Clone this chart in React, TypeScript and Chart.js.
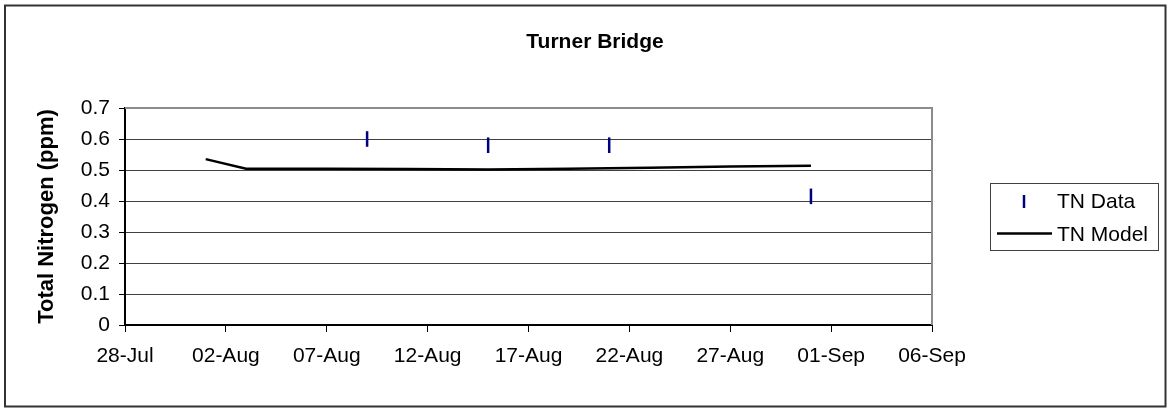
import React, { useEffect, useRef } from "react";
import { Chart, registerables } from "chart.js";

Chart.register(...registerables);

const FONT = "Arial, 'Liberation Sans', sans-serif";

const chartTitle = "Turner Bridge";
const yAxisTitle = "Total Nitrogen (ppm)";
const seriesNames = ["TN Data", "TN Model"];
const xTickLabels = ["28-Jul", "02-Aug", "07-Aug", "12-Aug", "17-Aug", "22-Aug", "27-Aug", "01-Sep", "06-Sep"];
const yTickLabels = ["0", "0.1", "0.2", "0.3", "0.4", "0.5", "0.6", "0.7"];

// x values are days since 28-Jul
const dataDays = [12, 18, 24, 34];
const dataValues = [0.6, 0.58, 0.58, 0.415];
const modelDays = [4, 6, 10, 14, 18, 22, 26, 30, 34];
const modelValues = [0.535, 0.504, 0.504, 0.503, 0.502, 0.504, 0.507, 0.511, 0.514];

const dataColor = "#000080";
const modelColor = "#000000";

const decorPlugin = {
  id: "decor",
  beforeDraw(chart: any) {
    const ctx = chart.ctx;
    ctx.save();
    ctx.fillStyle = "#ffffff";
    ctx.fillRect(0, 0, chart.width, chart.height);
    ctx.restore();
  },
  beforeDatasetsDraw(chart: any) {
    const { left, top, right, bottom } = chart.chartArea;
    const ctx = chart.ctx;
    ctx.save();
    ctx.strokeStyle = "#8c8c8c";
    ctx.lineWidth = 2;
    ctx.beginPath();
    ctx.moveTo(left, top);
    ctx.lineTo(right, top);
    ctx.lineTo(right, bottom);
    ctx.stroke();
    ctx.restore();
  },
  afterDraw(chart: any) {
    const ctx = chart.ctx;
    ctx.save();
    // outer chart border
    ctx.strokeStyle = "#333333";
    ctx.lineWidth = 2;
    ctx.strokeRect(5, 5.5, 1160.5, 401);
    // title
    ctx.fillStyle = "#000";
    ctx.font = `bold 21px ${FONT}`;
    ctx.textAlign = "center";
    ctx.textBaseline = "alphabetic";
    ctx.fillText(chartTitle, 595, 48);
    // legend
    ctx.strokeStyle = "#404040";
    ctx.lineWidth = 1;
    ctx.strokeRect(990.5, 183.5, 168, 67);
    const ds = chart.data.datasets;
    ctx.strokeStyle = ds[0].borderColor;
    ctx.lineWidth = 2.5;
    ctx.beginPath();
    ctx.moveTo(1024, 195);
    ctx.lineTo(1024, 208);
    ctx.stroke();
    ctx.strokeStyle = ds[1].borderColor;
    ctx.lineWidth = 2.5;
    ctx.beginPath();
    ctx.moveTo(997, 233.5);
    ctx.lineTo(1052, 233.5);
    ctx.stroke();
    ctx.fillStyle = "#000";
    ctx.font = `21px ${FONT}`;
    ctx.textAlign = "left";
    ctx.fillText(ds[0].label, 1057, 208);
    ctx.fillText(ds[1].label, 1057, 240.5);
    ctx.restore();
  },
};

export default function App() {
  const ref = useRef<HTMLCanvasElement | null>(null);

  useEffect(() => {
    document.body.style.margin = "0";
    const canvas = ref.current;
    if (!canvas) return;
    const chart = new Chart(canvas, {
      type: "scatter",
      data: {
        datasets: [
          {
            label: seriesNames[0],
            data: dataDays.map((d, i) => ({ x: d, y: dataValues[i] })),
            showLine: false,
            pointStyle: "line",
            rotation: 90,
            pointRadius: 7.8,
            pointHoverRadius: 7.8,
            borderWidth: 2.5,
            borderColor: dataColor,
            backgroundColor: dataColor,
          },
          {
            label: seriesNames[1],
            data: modelDays.map((d, i) => ({ x: d, y: modelValues[i] })),
            showLine: true,
            pointRadius: 0,
            pointHoverRadius: 0,
            borderWidth: 2.5,
            borderColor: modelColor,
            backgroundColor: modelColor,
            tension: 0,
          },
        ],
      },
      options: {
        responsive: false,
        animation: false,
        events: [],
        layout: { padding: { top: 108, right: 235, bottom: 0, left: 0 } },
        plugins: {
          legend: { display: false },
          title: { display: false },
          tooltip: { enabled: false },
        },
        scales: {
          x: {
            type: "linear",
            min: 0,
            max: 40,
            afterFit: (scale: any) => {
              scale.height = 84;
            },
            ticks: {
              stepSize: 5,
              autoSkip: false,
              maxRotation: 0,
              padding: 12,
              color: "#000",
              font: { family: FONT, size: 21 },
              callback: (v: any) => xTickLabels[Math.round(Number(v) / 5)],
            },
            grid: {
              drawOnChartArea: false,
              drawTicks: true,
              tickLength: 7,
              tickColor: "#000",
              lineWidth: 1,
            },
            border: { color: "#000", width: 2 },
          },
          y: {
            type: "linear",
            min: 0,
            max: 0.7,
            afterFit: (scale: any) => {
              scale.width = 125;
            },
            ticks: {
              stepSize: 0.1,
              padding: 9,
              color: "#000",
              font: { family: FONT, size: 21 },
              callback: (v: any) => yTickLabels[Math.round(Number(v) * 10)],
            },
            grid: {
              color: "#404040",
              lineWidth: 1,
              drawTicks: true,
              tickLength: 6,
              tickColor: "#000",
            },
            border: { color: "#000", width: 2 },
            title: {
              display: true,
              text: yAxisTitle,
              color: "#000",
              font: { family: FONT, size: 22, weight: "bold" },
              padding: { top: 34, bottom: 0 },
            },
          },
        },
      },
      plugins: [decorPlugin],
    } as any);
    return () => chart.destroy();
  }, []);

  return (
    <div style={{ width: 1167, height: 409, position: "relative" }}>
      <canvas ref={ref} width={1167} height={409} style={{ display: "block" }} />
    </div>
  );
}
